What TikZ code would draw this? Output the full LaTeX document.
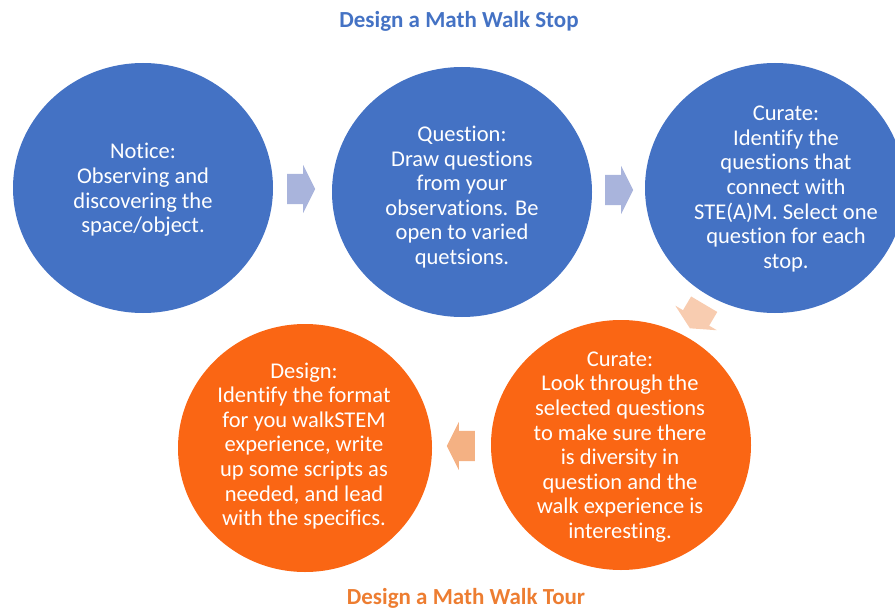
\documentclass[tikz,border=0pt]{standalone}
\usepackage{fontspec}
\setmainfont[Ligatures=NoCommon]{Carlito}
\usetikzlibrary{shapes.geometric,shapes.arrows}

\definecolor{stepblue}{RGB}{68,114,196}
\definecolor{steporange}{RGB}{250,102,20}
\definecolor{titleorange}{RGB}{237,125,49}
\definecolor{flowblue}{RGB}{169,180,220}
\definecolor{flowpeach}{RGB}{244,177,131}
\definecolor{flowpale}{RGB}{248,204,176}

\tikzset{
  disc/.style={ellipse, draw=none, minimum width=260pt, minimum height=250pt, inner sep=0pt},
  bluedisc/.style={disc, fill=stepblue},
  orangedisc/.style={disc, fill=steporange},
  disctext/.style={align=center, text=white, inner sep=0pt,
    font=\fontsize{22.5}{24.6}\selectfont},
  heading/.style={font=\bfseries\fontsize{23}{26}\selectfont, inner sep=0pt},
  flow/.style={single arrow, draw=none, inner xsep=0pt, inner ysep=15pt,
    single arrow head extend=9pt, single arrow tip angle=127,
    minimum height=28pt},
}

\begin{document}
\begin{tikzpicture}[x=1pt, y=-1pt]
  \useasboundingbox (0,0) rectangle (895,610);
  \clip (0,0) rectangle (895,610);

  % headings
  \node[heading, text=stepblue] (topTitle) at (459,21) {Design a Math Walk Stop};
  \node[heading, text=titleorange] (bottomTitle) at (466,598) {Design a Math Walk Tour};

  % discs of the first cycle
  \node[bluedisc] (c1) at (143,188) {};
  \node[bluedisc] (c2) at (462,192) {};
  \node[bluedisc] (c3) at (775,188) {};
  % discs of the second cycle
  \node[orangedisc, minimum width=254pt, minimum height=248pt] (c4) at (305,448) {};
  \node[orangedisc] (c5) at (621,445) {};

  % disc texts
  \node[disctext] (t1) at (143,190) {Notice:\\Observing and\\discovering the\\space/object.};
  \node[disctext] (t2) at (462,197) {Question:\\Draw questions\\from your\\observations. Be\\open to varied\\quetsions.};
  \node[disctext] (t3) at (786,189) {Curate:\\Identify the\\questions that\\connect with\\STE(A)M. Select one\\question for each\\stop.};
  \node[disctext] (t4) at (304,446) {Design:\\Identify the format\\for you walkSTEM\\experience, write\\up some scripts as\\needed, and lead\\with the specifics.};
  \node[disctext] (t5) at (620,447) {Curate:\\Look through the\\selected questions\\to make sure there\\is diversity in\\question and the\\walk experience is\\interesting.};

  % block arrows between the discs
  \node[flow, fill=flowblue, anchor=tail] (a12) at (287,189) {};
  \node[flow, fill=flowblue, anchor=tail] (a23) at (605,190) {};
  \node[flow, fill=flowpale, rotate=-120.6, anchor=center] (a35) at (699,313) {};
  \node[flow, fill=flowpeach, shape border rotate=180, anchor=tail] (a54) at (475,446) {};
\end{tikzpicture}
\end{document}
